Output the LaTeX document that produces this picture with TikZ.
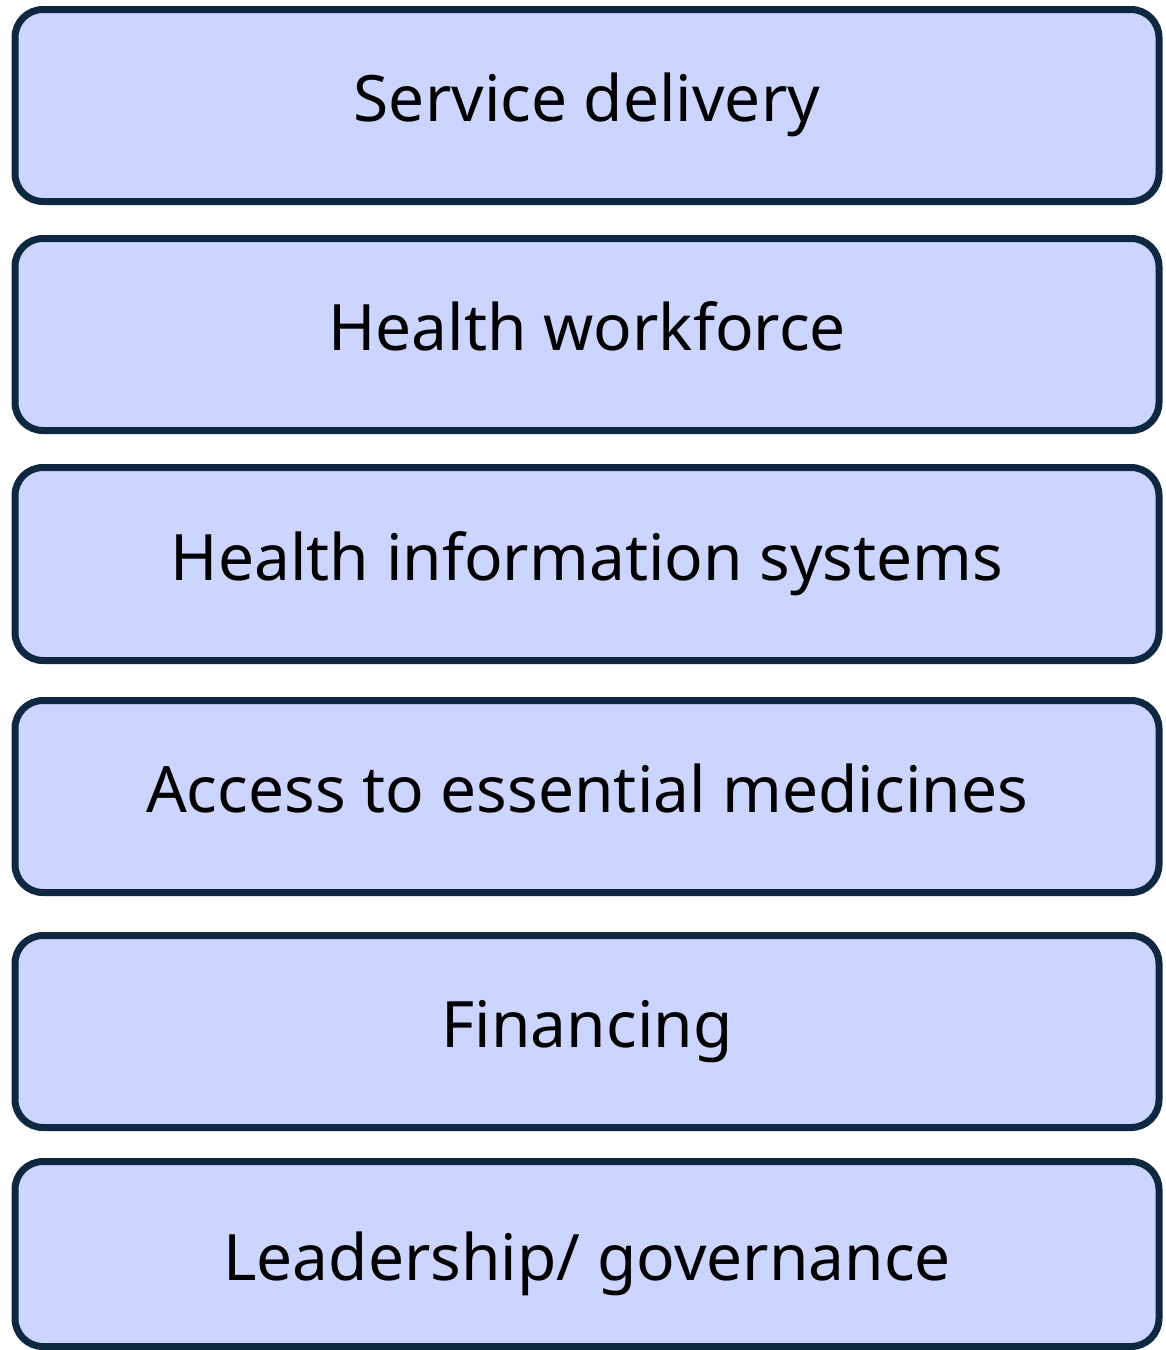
\documentclass[tikz,border=0pt]{standalone}
\usepackage{fontspec}
\setmainfont{Noto Sans}
\usepackage{xcolor}
\definecolor{blockfill}{HTML}{CCD5FF}
\definecolor{blockline}{HTML}{0E2841}
\tikzset{block/.style={draw=blockline, fill=blockfill, line width=7pt,
    rounded corners=28pt, minimum width=1144pt, inner sep=0pt,
    text height=46pt, text depth=14pt,
    font=\fontsize{64}{76}\selectfont}}
% #1 centre y, #2 height, #3 name, #4 label, #5 extra options
\newcommand{\pillar}[5]{%
  \node[block, minimum height=#2pt, #5] (#3) at (587,#1) {#4};}

\begin{document}
\begin{tikzpicture}[x=1pt,y=-1pt]
  \useasboundingbox (0,0) rectangle (1166,1350);
  \pillar{105.5}{192}{service}{Service delivery}{}
  \pillar{334.5}{192}{workforce}{Health workforce}{}
  \pillar{564}{193}{information}{Health information systems}{}
  \pillar{796.5}{192}{medicines}{Access to essential medicines}{}
  \pillar{1031.5}{192}{financing}{Financing}{}
  \pillar{1254}{185}{leadership}{Leadership/ governance}{text height=66pt}
\end{tikzpicture}
\end{document}
